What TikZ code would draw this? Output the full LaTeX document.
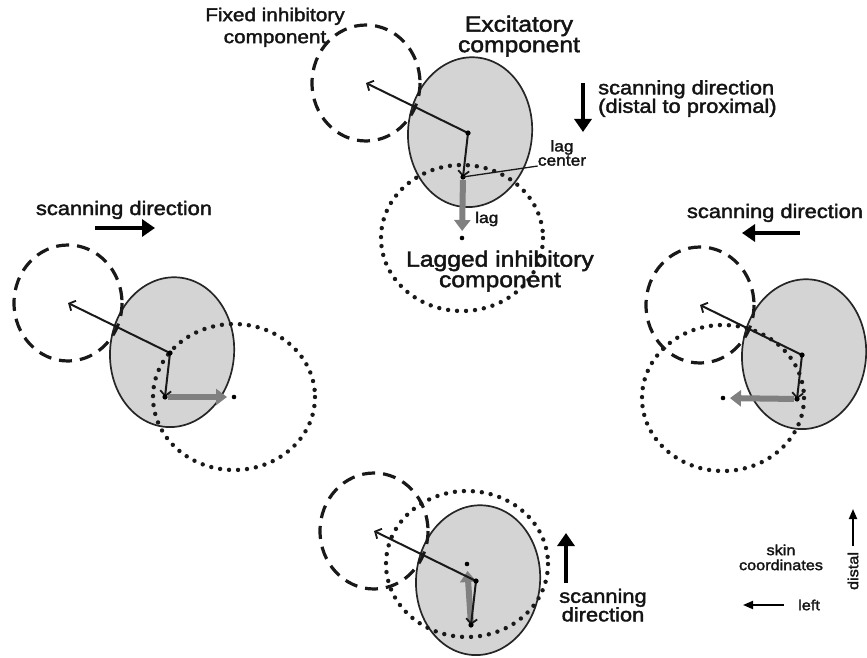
\documentclass[tikz,border=0pt]{standalone}
\usepackage{fontspec}
\setmainfont[FakeStretch=1.12, FakeBold=2]{Liberation Sans}
\usetikzlibrary{arrows.meta}

% type sizes
\newcommand\rfbig{\fontsize{22}{20.5}\selectfont}
\newcommand\rffix{\fontsize{18.5}{22}\selectfont}
\newcommand\rfscan{\fontsize{19.5}{18.5}\selectfont}
\newcommand\rfsmall{\fontsize{15.5}{13}\selectfont}
\newcommand\rftiny{\fontsize{14.5}{15}\selectfont}

\tikzset{
  excit/.style={draw=black!85, line width=1.7pt, fill=black!17},
  fixinh/.style={draw=black!90, line width=3.2pt, dash pattern=on 13pt off 8pt},
  laginh/.style={draw=black!90, line width=4.4pt, line cap=round, dash pattern=on 0pt off 9pt},
  offvec/.style={draw=black!90, line width=2pt, -{Straight Barb[length=5pt,width=11pt,line width=1.8pt]}},
  lagvec/.style={draw=black!50, line width=6pt, -{Triangle[length=11pt,width=16pt]}, shorten >=7pt, shorten <=3pt},
  scanarrow/.style={draw=black, line width=4pt, -{Triangle[length=13pt,width=17pt]}},
  axisarrow/.style={draw=black, line width=1.8pt, -{Triangle[length=10pt,width=8pt]}},
  leader/.style={draw=black!90, line width=1.3pt},
  lbl/.style={text=black!92, inner sep=0pt},
}

% one receptive field: #1 name prefix, (#2,#3) excitatory centre, (#4,#5) lagged centre
\newcommand\rfunit[5]{%
  \coordinate (#1c) at (#2,#3);
  \coordinate (#1f) at (#2-102,#3-50);
  \coordinate (#1l) at (#2-5,#3+44);
  \coordinate (#1d) at (#4,#5);
  \draw[excit, rotate around={-5:(#1c)}] (#1c) ++(2,-1) ellipse [x radius=62, y radius=75];
  \draw[fixinh] (#1f) ellipse [x radius=54, y radius=58];
  \draw[laginh] (#1d) ellipse [x radius=81, y radius=73];
  \draw[lagvec] (#1l) -- (#1d);
  \draw[offvec] (#1c) -- (#1f);
  \draw[offvec] (#1c) -- (#1l);
  \fill[black] (#1c) circle [radius=2.6];
  \fill[black] (#1l) circle [radius=2.6];
  \fill[black] (#1d) circle [radius=2.3];
}

\begin{document}
\begin{tikzpicture}[x=1pt, y=-1pt]
\useasboundingbox (0,0) rectangle (867,658);

% the four receptive fields
\rfunit{t}{468}{133}{462}{238}
\rfunit{w}{170}{353}{234}{397}
\rfunit{e}{802}{355}{723}{398}
\rfunit{s}{476}{581}{467}{564}

% component labels
\node[lbl, anchor=north, align=center, font=\rffix] (fixlbl) at (275,7.5) {Fixed inhibitory\\component};
\node[lbl, anchor=north, align=center, font=\rfbig] (exclbl) at (519,15.5) {Excitatory\\component};
\node[lbl, anchor=north, align=center, font=\rfbig] (laglbl) at (500,250.5) {Lagged inhibitory\\component};
\node[lbl, anchor=base west, font=\rfsmall] (lagtxt) at (475,223) {lag};
\node[lbl, anchor=north, align=center, font=\rfsmall] (lagctr) at (562,140) {lag\\center};
\draw[leader] (tl) -- (lagctr.south west);

% scanning directions
\coordinate (ta) at (583,83);  \coordinate (tb) at (583,132);
\draw[scanarrow] (ta) -- (tb);
\node[lbl, anchor=north west, align=left, font=\rfscan] (tscan) at (598,80) {scanning direction\\(distal to proximal)};

\coordinate (wa) at (95,228);  \coordinate (wb) at (155,228);
\draw[scanarrow] (wa) -- (wb);
\node[lbl, anchor=base, font=\rfscan] (wscan) at (124,215) {scanning direction};

\coordinate (ea) at (800,233); \coordinate (eb) at (742,233);
\draw[scanarrow] (ea) -- (eb);
\node[lbl, anchor=base, font=\rfscan] (escan) at (775,218) {scanning direction};

\coordinate (sa) at (566,583); \coordinate (sb) at (566,533);
\draw[scanarrow] (sa) -- (sb);
\node[lbl, anchor=north, align=center, font=\rfscan] (sscan) at (603,588.5) {scanning\\direction};

% skin coordinate axes
\node[lbl, anchor=north, align=center, font=\rftiny] (skin) at (781,544.4) {skin\\coordinates};
\coordinate (la) at (784,605); \coordinate (lb) at (743,605);
\draw[axisarrow] (la) -- (lb);
\node[lbl, anchor=west, font=\rftiny] (left) at (798,605) {left};
\coordinate (da) at (853,546); \coordinate (db) at (853,509);
\draw[axisarrow] (da) -- (db);
\node[lbl, rotate=90, font=\rftiny] (distal) at (853,571) {distal};
\end{tikzpicture}
\end{document}
